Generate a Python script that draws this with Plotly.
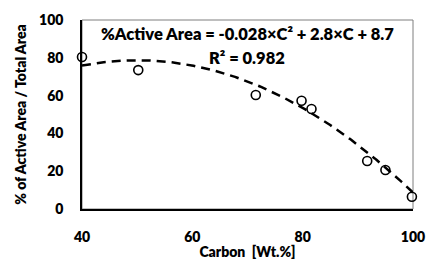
import numpy as np
import plotly.graph_objects as go

carbon = [40.0, 50.2, 71.5, 79.8, 81.6, 91.7, 95.0, 99.8]
active_area = [80.4, 73.5, 60.3, 57.3, 52.9, 25.4, 20.6, 6.5]
fit_coef = [-0.028, 2.8, 8.7]  # a*C^2 + b*C + c
x_ticks = [40, 60, 80, 100]
y_ticks = [0, 20, 40, 60, 80, 100]

cx = np.linspace(40, 100, 200)
cy = np.polyval(fit_coef, cx)

font = "Lato"

def bf(size):
    return dict(family=font, size=size, color="black", weight=800)

fig = go.Figure()
fig.add_trace(go.Scatter(x=cx, y=cy, mode="lines",
                         line=dict(color="black", width=2.5, dash="9px,6px"),
                         hoverinfo="skip", showlegend=False))
fig.add_trace(go.Scatter(x=carbon, y=active_area, mode="markers",
                         marker=dict(symbol="circle-open", size=9, color="black",
                                     line=dict(width=1.6, color="black")),
                         showlegend=False, cliponaxis=False))

fig.add_annotation(x=0.5, y=0.925, xref="paper", yref="paper",
                   xanchor="center", yanchor="middle",
                   text="%Active Area = -0.028×C² + 2.8×C + 8.7",
                   showarrow=False, font=bf(16.5))
fig.add_annotation(x=0.497, y=0.80, xref="paper", yref="paper",
                   xanchor="center", yanchor="middle",
                   text="R² = 0.982",
                   showarrow=False, font=bf(16.5))

fig.update_layout(
    width=427, height=260,
    margin=dict(l=82, r=14, t=20, b=51, autoexpand=False),
    paper_bgcolor="white", plot_bgcolor="white",
    font=dict(family=font, color="black"),
    shapes=[dict(type="rect", xref="paper", yref="paper", x0=0, y0=0, x1=1, y1=1,
                 line=dict(color="#7f7f7f", width=1), layer="below")],
)
fig.update_xaxes(range=[40, 100], tickvals=x_ticks, showgrid=False, zeroline=False,
                 showline=True, linecolor="black", linewidth=1.5, ticks="",
                 tickfont=bf(14), ticklabelstandoff=14, automargin=False,
                 title=dict(text="Carbon&nbsp; [Wt.%]", font=bf(14), standoff=3))
fig.update_yaxes(range=[0, 100], tickvals=y_ticks, showgrid=False, zeroline=False,
                 showline=True, linecolor="black", linewidth=1.5, ticks="",
                 tickfont=bf(14), ticklabelstandoff=14, automargin=False,
                 title=dict(text="% of Active Area / Total Area", font=bf(14), standoff=9))

fig.write_html("out.html", post_script="document.body.style.margin='0';",
               config={"displayModeBar": False})
